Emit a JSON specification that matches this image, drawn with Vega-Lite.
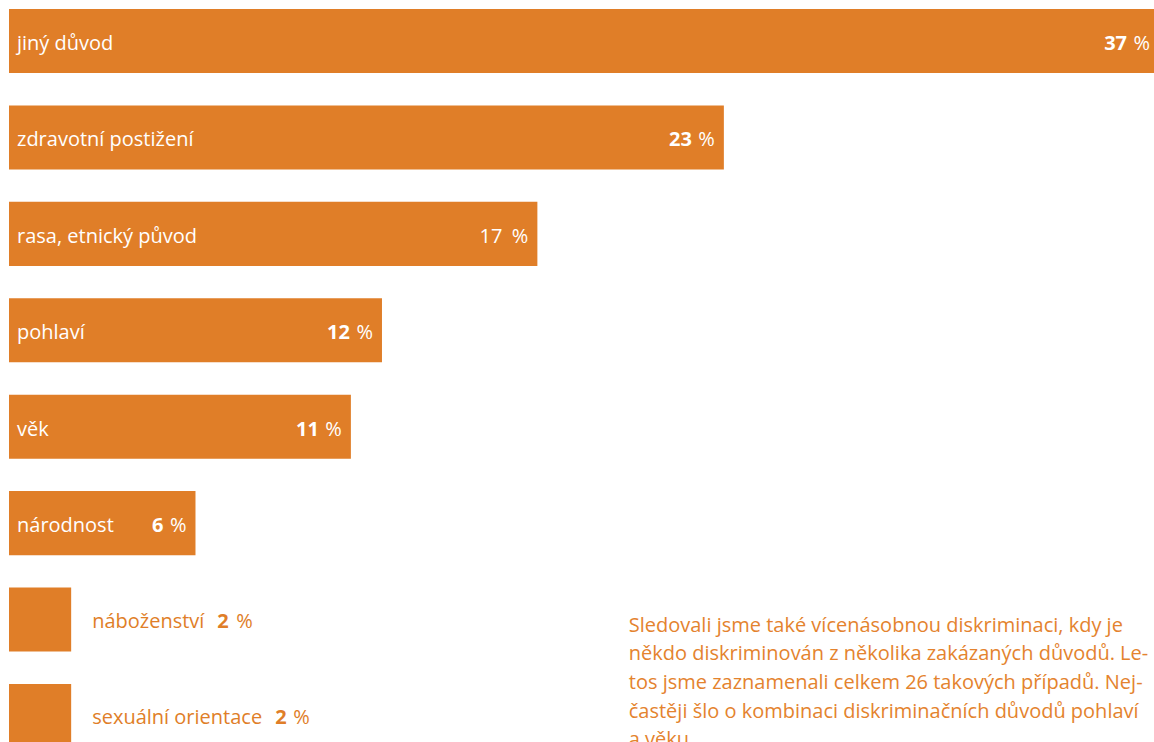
{
  "$schema": "https://vega.github.io/schema/vega-lite/v6.json",
  "width": 1154,
  "height": 742,
  "autosize": {"type": "none"},
  "padding": 0,
  "background": "white",
  "config": {"view": {"stroke": null}, "font": "Open Sans"},
  "data": {"values": [
    {"category": "jiný důvod", "value": 37},
    {"category": "zdravotní postižení", "value": 23},
    {"category": "rasa, etnický původ", "value": 17},
    {"category": "pohlaví", "value": 12},
    {"category": "věk", "value": 11},
    {"category": "národnost", "value": 6},
    {"category": "náboženství", "value": 2},
    {"category": "sexuální orientace", "value": 2}
  ]},
  "encoding": {
    "y": {"field": "category", "type": "nominal", "sort": null, "axis": null,
      "scale": {"range": [9, 748], "paddingInner": 0.336, "paddingOuter": 0}}
  },
  "layer": [
    {
      "mark": {"type": "bar", "color": "#E07E28", "cornerRadius": 0},
      "encoding": {
        "x": {"field": "value", "type": "quantitative", "axis": null,
          "scale": {"domain": [0, 37], "range": [9, 1159], "nice": false, "zero": true}}
      }
    },
    {
      "transform": [{"filter": "datum.value > 2"}],
      "mark": {"type": "text", "align": "left", "baseline": "alphabetic", "dx": 8, "dy": 9, "fontSize": 20, "color": "white"},
      "encoding": {
        "x": {"datum": 0, "type": "quantitative"},
        "text": {"field": "category"}
      }
    },
    {
      "transform": [{"filter": "datum.value > 2"}],
      "mark": {"type": "text", "align": "right", "baseline": "alphabetic", "dx": -9, "dy": 9, "fontSize": 20, "color": "white", "text": "%"},
      "encoding": {
        "x": {"field": "value", "type": "quantitative"}
      }
    },
    {
      "transform": [{"filter": "datum.value > 2 && datum.value != 17"}],
      "mark": {"type": "text", "align": "right", "baseline": "alphabetic", "dx": -32, "dy": 9, "fontSize": 20, "fontWeight": "bold", "color": "white"},
      "encoding": {
        "x": {"field": "value", "type": "quantitative"},
        "text": {"field": "value", "type": "quantitative"}
      }
    },
    {
      "transform": [{"filter": "datum.value == 17"}],
      "mark": {"type": "text", "align": "right", "baseline": "alphabetic", "dx": -35, "dy": 9, "fontSize": 20, "fontWeight": "normal", "color": "white"},
      "encoding": {
        "x": {"field": "value", "type": "quantitative"},
        "text": {"field": "value", "type": "quantitative"}
      }
    },
    {
      "transform": [{"filter": "datum.value <= 2"}],
      "mark": {"type": "text", "align": "left", "baseline": "alphabetic", "dx": 21, "dy": 8, "fontSize": 20, "color": "#E07E28"},
      "encoding": {
        "x": {"field": "value", "type": "quantitative"},
        "text": {"field": "category"}
      }
    },
    {
      "transform": [{"filter": "datum.category == 'náboženství'"}],
      "mark": {"type": "text", "align": "left", "baseline": "alphabetic", "dx": 146, "dy": 8, "fontSize": 20, "fontWeight": "bold", "color": "#E07E28"},
      "encoding": {
        "x": {"field": "value", "type": "quantitative"},
        "text": {"field": "value", "type": "quantitative"}
      }
    },
    {
      "transform": [{"filter": "datum.category == 'náboženství'"}],
      "mark": {"type": "text", "align": "left", "baseline": "alphabetic", "dx": 165, "dy": 8, "fontSize": 20, "color": "#E07E28", "text": "%"},
      "encoding": {
        "x": {"field": "value", "type": "quantitative"}
      }
    },
    {
      "transform": [{"filter": "datum.category == 'sexuální orientace'"}],
      "mark": {"type": "text", "align": "left", "baseline": "alphabetic", "dx": 204, "dy": 8, "fontSize": 20, "fontWeight": "bold", "color": "#E07E28"},
      "encoding": {
        "x": {"field": "value", "type": "quantitative"},
        "text": {"field": "value", "type": "quantitative"}
      }
    },
    {
      "transform": [{"filter": "datum.category == 'sexuální orientace'"}],
      "mark": {"type": "text", "align": "left", "baseline": "alphabetic", "dx": 222, "dy": 8, "fontSize": 20, "color": "#E07E28", "text": "%"},
      "encoding": {
        "x": {"field": "value", "type": "quantitative"}
      }
    },
    {
      "data": {"values": [{"note": ["Sledovali jsme také vícenásobnou diskriminaci, kdy je", "někdo diskriminován z několika zakázaných důvodů. Le-", "tos jsme zaznamenali celkem 26 takových případů. Nej-", "častěji šlo o kombinaci diskriminačních důvodů pohlaví", "a věku."]}]},
      "mark": {"type": "text", "align": "left", "baseline": "alphabetic", "dy": 12, "fontSize": 20, "lineHeight": 28.7, "color": "#E4832E"},
      "encoding": {
        "x": {"datum": 19.94, "type": "quantitative"},
        "y": {"datum": "náboženství", "type": "nominal"},
        "text": {"field": "note"}
      }
    }
  ]
}
